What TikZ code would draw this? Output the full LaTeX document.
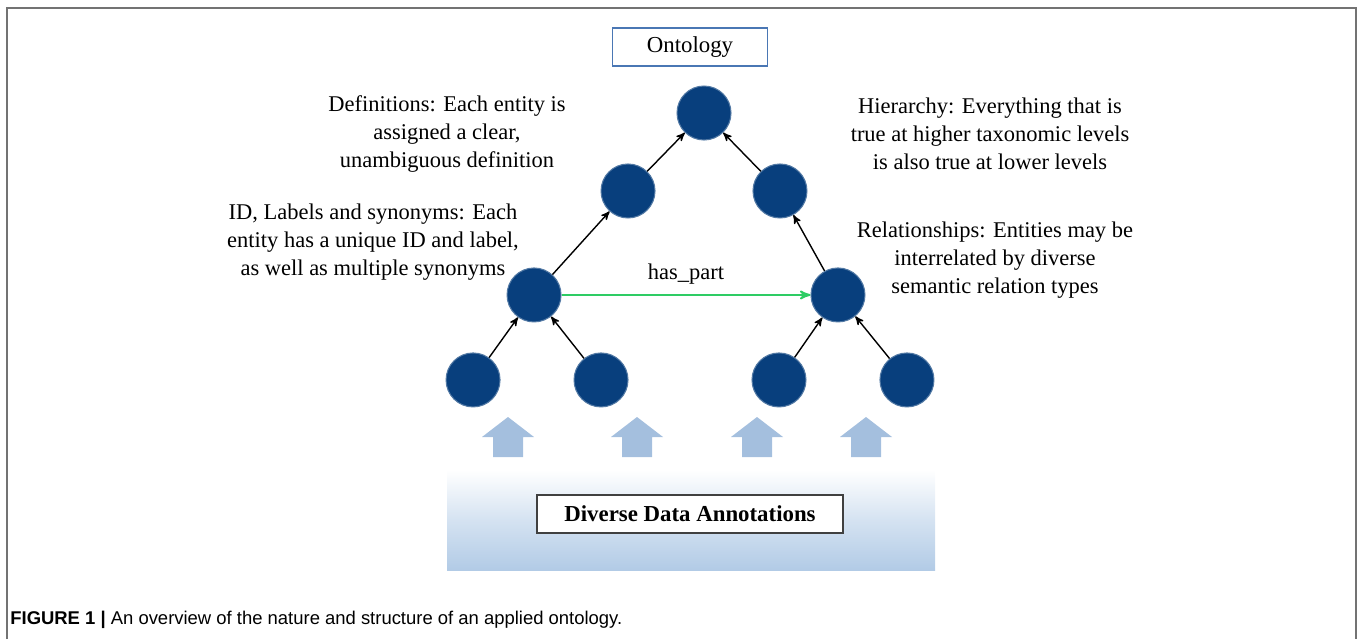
\documentclass[tikz,border=0pt]{standalone}
\usepackage{fontspec}
\usepackage{tikz}
\usetikzlibrary{arrows,positioning}

\setmainfont{Liberation Serif}
\newfontfamily\capfont{Liberation Sans}

\definecolor{nodeblue}{RGB}{8,63,125}
\definecolor{upblue}{RGB}{164,191,222}
\definecolor{partgreen}{RGB}{46,204,100}
\definecolor{ontoframe}{RGB}{74,119,180}
\definecolor{databand}{RGB}{178,203,230}
\definecolor{pageframe}{RGB}{115,115,115}

\tikzset{
    entity/.style={circle, fill=nodeblue, draw=nodeblue!70, line width=0.6pt, minimum size=1.08cm, inner sep=0pt},
    note/.style={align=center, font=\fontsize{12.8}{15.9}\selectfont},
    titlebox/.style={draw=ontoframe, line width=0.9pt, minimum width=3.1cm, minimum height=0.76cm, font=\fontsize{13}{15}\selectfont},
    databox/.style={draw=black!75, fill=white, line width=0.9pt, minimum width=6.12cm, minimum height=0.76cm, font=\fontsize{13}{15}\selectfont\bfseries}
}

\begin{document}
\begin{tikzpicture}[x=0.02cm, y=-0.02cm, >=stealth', auto, on grid]
    \useasboundingbox (0,0) rectangle (1358,639);
    % Frame
    \draw [pageframe, line width=1.1pt] (7,639) -- (7,8) -- (1356,8) -- (1356,639);

    % Nodes {top, second, third level, leaves}
    \node [titlebox] at (690,47)      (onto)                          {Ontology};
    \node [entity] at (704,113)       (n1)                            {};
    \node [entity]                    (n2l)  [below left=1.56cm and 1.52cm of n1]   {};
    \node [entity]                    (n2r)  [below right=1.56cm and 1.52cm of n1]  {};
    \node [entity]                    (n3l)  [below left=2.08cm and 1.88cm of n2l]  {};
    \node [entity]                    (n3r)  [below right=2.08cm and 1.16cm of n2r] {};
    \node [entity]                    (n4a)  [below left=1.7cm and 1.22cm of n3l]   {};
    \node [entity]                    (n4b)  [below right=1.7cm and 1.34cm of n3l]  {};
    \node [entity]                    (n4c)  [below left=1.7cm and 1.18cm of n3r]   {};
    \node [entity]                    (n4d)  [below right=1.7cm and 1.38cm of n3r]  {};

    % Notes
    \node [note] at (447,134)  (defs)  {Definitions: Each entity is\\assigned a clear,\\unambiguous definition};
    \node [note] at (990,134)  (hier)  {Hierarchy: Everything that is\\true at higher taxonomic levels\\is also true at lower levels};
    \node [note] at (373,242)  (ids)   {ID, Labels and synonyms: Each\\entity has a unique ID and label,\\as well as multiple synonyms};
    \node [note] at (995,260)  (rels)  {Relationships: Entities may be\\interrelated by diverse\\semantic relation types};

    % Paths
    \path [->, line width=0.8pt]  (n2l) edge  (n1);
    \path [->, line width=0.8pt]  (n2r) edge  (n1);
    \path [->, line width=0.8pt]  (n3l) edge  (n2l);
    \path [->, line width=0.8pt]  (n3r) edge  (n2r);
    \path [->, line width=0.8pt]  (n4a) edge  (n3l);
    \path [->, line width=0.8pt]  (n4b) edge  (n3l);
    \path [->, line width=0.8pt]  (n4c) edge  (n3r);
    \path [->, line width=0.8pt]  (n4d) edge  (n3r);
    \path [->, partgreen, line width=1.1pt]  (n3l) edge  node [black, font=\fontsize{12.8}{15}\selectfont, yshift=2pt] {has\_part}  (n3r);

    % Annotations band
    \shade [top color=white, bottom color=databand, middle color=databand!55] (447,470) rectangle (935,570);
    \node [databox] at (690,514)  (data)  {Diverse Data Annotations};
    \foreach \x in {508,637,757,866}
        \fill [upblue] (\x-15,457) -- (\x-15,437) -- (\x-26,437) -- (\x,417) -- (\x+26,437) -- (\x+15,437) -- (\x+15,457) -- cycle;

    % Caption
    \node [anchor=base west, inner sep=0pt, font=\capfont\fontsize{10.5}{12}\selectfont] at (10,624) (cap)
        {\textbf{FIGURE 1 |} An overview of the nature and structure of an applied ontology.};
\end{tikzpicture}
\end{document}
